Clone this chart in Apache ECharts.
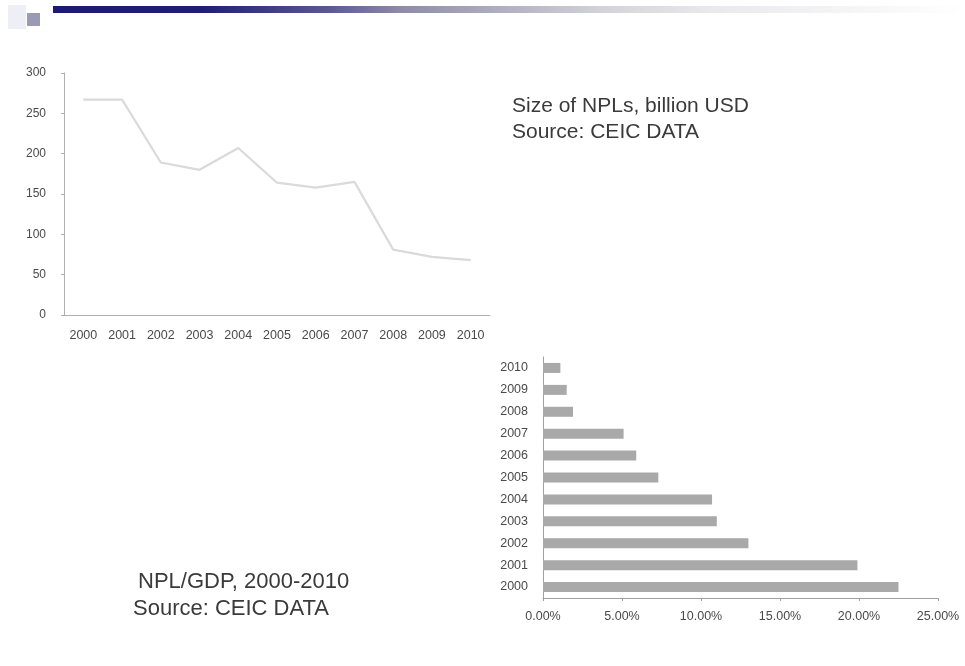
<!DOCTYPE html>
<html>
<head>
<meta charset="utf-8">
<script src="https://cdn.jsdelivr.net/npm/echarts@6/dist/echarts.min.js"></script>
<style>
  html, body { margin: 0; padding: 0; background: #fff; }
  #chart { width: 965px; height: 666px; }
</style>
</head>
<body>
<div id="chart"></div>
<script>
// Years shared by both panels
const years = ['2000', '2001', '2002', '2003', '2004', '2005', '2006', '2007', '2008', '2009', '2010'];

// Size of non-performing loans, billion USD
const nplSize = [267, 267, 189, 180, 207, 164, 158, 165, 81, 72, 68];

// NPL as a share of GDP, percent
const nplGdp = [22.5, 19.9, 13.0, 11.0, 10.7, 7.3, 5.9, 5.1, 1.9, 1.5, 1.1];

// Value axis ticks
const sizeTicks = { min: 0, max: 300, interval: 50 };
const shareTicks = { min: 0, max: 25, interval: 5 };

const labelFont = { fontFamily: 'Liberation Sans, Arial, sans-serif', color: '#4a4a4a' };
const captionFont = '21px "Liberation Sans", Arial, sans-serif';
const lowerCaptionFont = '22px "Liberation Sans", Arial, sans-serif';

const chart = echarts.init(document.getElementById('chart'));

chart.setOption({
  backgroundColor: '#ffffff',
  animation: false,
  graphic: [
    // slide header band
    {
      type: 'rect', left: 53, top: 6,
      shape: { width: 912, height: 7 },
      style: {
        fill: new echarts.graphic.LinearGradient(0, 0, 1, 0, [
          { offset: 0, color: '#1c1a72' },
          { offset: 0.16, color: '#1f1d74' },
          { offset: 0.3, color: '#5a5790' },
          { offset: 0.38, color: '#8e8aa8' },
          { offset: 0.6, color: '#d2d2d8' },
          { offset: 0.72, color: '#e9e9ec' },
          { offset: 0.95, color: '#fbfbfb' },
          { offset: 1, color: '#ffffff' }
        ])
      },
      silent: true
    },
    { type: 'rect', left: 8, top: 5, shape: { width: 18, height: 24 }, style: { fill: '#eeeef6' }, silent: true },
    { type: 'rect', left: 27, top: 13, shape: { width: 13, height: 13 }, style: { fill: '#9a9ab6' }, silent: true },
    // captions
    {
      type: 'text', left: 512, top: 93,
      style: {
        text: 'Size of NPLs, billion USD\nSource: CEIC DATA',
        font: captionFont, fill: '#3a3a3a', lineHeight: 26
      }
    },
    {
      type: 'text', left: 138, top: 571,
      style: { text: 'NPL/GDP, 2000-2010', font: lowerCaptionFont, fill: '#3a3a3a' }
    },
    {
      type: 'text', left: 133, top: 598,
      style: { text: 'Source: CEIC DATA', font: lowerCaptionFont, fill: '#3a3a3a' }
    }
  ],
  grid: [
    { left: 64, right: 475, top: 73, bottom: 351 },
    { left: 543, right: 27, top: 357, bottom: 68 }
  ],
  xAxis: [
    {
      gridIndex: 0, type: 'category', data: years, boundaryGap: true,
      axisLine: { lineStyle: { color: '#b0b0b0', width: 1 } },
      axisTick: { length: 3, lineStyle: { color: '#b0b0b0' } },
      axisLabel: Object.assign({ fontSize: 12.5, margin: 14, interval: 0 }, labelFont),
      splitLine: { show: false }
    },
    {
      gridIndex: 1, type: 'value',
      min: shareTicks.min, max: shareTicks.max, interval: shareTicks.interval,
      axisLine: { show: true, lineStyle: { color: '#a0a0a0', width: 1 } },
      axisTick: { show: true, length: 3, lineStyle: { color: '#a0a0a0' } },
      axisLabel: Object.assign({ fontSize: 12.5, margin: 12, formatter: v => v.toFixed(2) + '%' }, labelFont),
      splitLine: { show: false }
    }
  ],
  yAxis: [
    {
      gridIndex: 0, type: 'value',
      min: sizeTicks.min, max: sizeTicks.max, interval: sizeTicks.interval,
      axisLine: { show: true, lineStyle: { color: '#b0b0b0', width: 1 } },
      axisTick: { show: true, length: 3, lineStyle: { color: '#b0b0b0' } },
      axisLabel: Object.assign({ fontSize: 12, margin: 18 }, labelFont),
      splitLine: { show: false }
    },
    {
      gridIndex: 1, type: 'category', data: years, boundaryGap: true,
      axisLine: { lineStyle: { color: '#a0a0a0', width: 1 } },
      axisTick: { length: 3, lineStyle: { color: '#a0a0a0' } },
      axisLabel: Object.assign({ fontSize: 12.5, margin: 15, interval: 0 }, labelFont),
      splitLine: { show: false }
    }
  ],
  series: [
    {
      type: 'line', xAxisIndex: 0, yAxisIndex: 0,
      data: nplSize,
      showSymbol: false,
      lineStyle: { color: '#dadada', width: 2.2 }
    },
    {
      type: 'bar', xAxisIndex: 1, yAxisIndex: 1,
      data: nplGdp,
      barWidth: 10,
      itemStyle: { color: '#a9a9a9' }
    }
  ]
});
</script>
</body>
</html>
